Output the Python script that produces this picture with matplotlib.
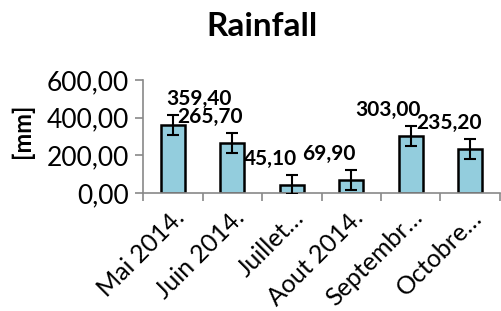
import matplotlib
matplotlib.use("Agg")
import matplotlib.pyplot as plt
import numpy as np

categories = ["Mai 2014.", "Juin 2014.", "Juillet…", "Aout 2014.", "Septembr…", "Octobre…"]
values = [359.40, 265.70, 45.10, 69.90, 303.00, 235.20]
errors = [53, 53, 53, 53, 53, 53]
yticks = [0, 200, 400, 600]

# label placement offsets in pixels (layout only)
label_dx = [26, -22, -21, -22, -23, -21]
label_dy = 26

plt.rcParams['font.family'] = ['Lato', 'DejaVu Sans']

fig = plt.figure(figsize=(5.02, 3.11), dpi=100)
ax = fig.add_axes([143/502, 1-193/311, 357/502, 113/311])

x = np.arange(len(categories))
ax.bar(x, values, width=0.4, color="#93CDDD", edgecolor="black", linewidth=1.8, zorder=2)
ax.errorbar(x, values, yerr=errors, fmt='none', ecolor='black', elinewidth=1.5,
            capsize=4.5, capthick=1.5, zorder=3)

for xi, v, dx in zip(x, values, label_dx):
    ax.annotate(f"{v:.2f}".replace('.', ','), xy=(xi, v), xytext=(dx, label_dy),
                textcoords='offset pixels', ha='center', va='center',
                fontsize=15, fontweight='bold', zorder=4)

ax.set_xlim(-0.5, len(categories) - 0.5)
ax.set_ylim(0, 600)
ax.set_yticks(yticks)
ax.set_yticklabels([f"{t:.2f}".replace('.', ',') for t in yticks], fontsize=19)
ax.set_xticks(np.arange(len(categories) + 1) - 0.5)
ax.set_xticklabels([])
ax.set_xticks(x, minor=True)
ax.set_xticklabels(categories, minor=True, rotation=45, ha='right', va='top',
                   rotation_mode='anchor', fontsize=18)
ax.tick_params(axis='x', which='minor', length=0, pad=9)
ax.tick_params(axis='x', which='major', length=6, color='#898989', width=1.2)
ax.tick_params(axis='y', length=6, color='#898989', width=1.2, pad=4)

for s in ['top', 'right']:
    ax.spines[s].set_visible(False)
for s in ['left', 'bottom']:
    ax.spines[s].set_color('#898989')
    ax.spines[s].set_linewidth(1.2)

ax.set_ylabel("[mm]", fontsize=17, fontweight='bold', va='center')
ax.yaxis.set_label_coords((22 - 143) / 357, (193 - 131) / 113)
fig.text(262/502, 1-27/311, "Rainfall", ha='center', va='center', fontsize=24, fontweight='bold')

fig.savefig("out.png", dpi=100)
